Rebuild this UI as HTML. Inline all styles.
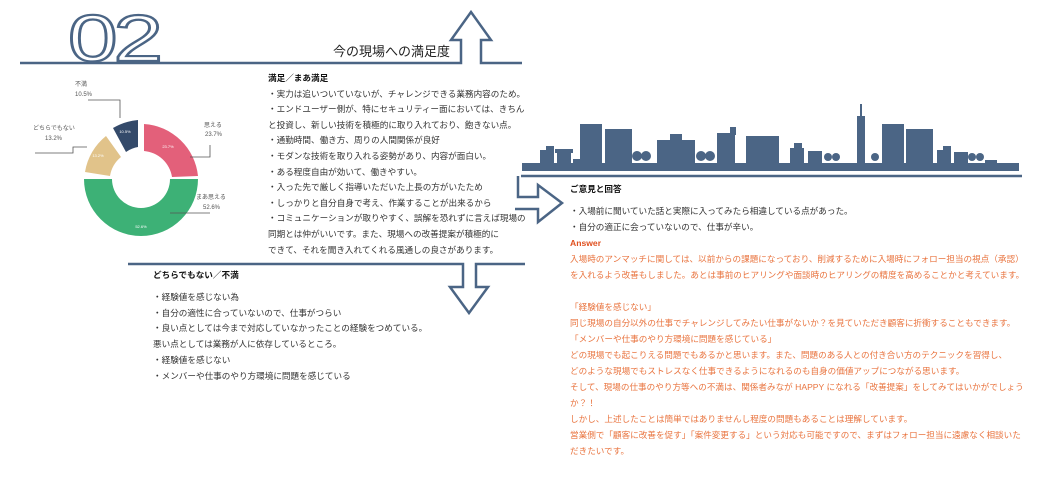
<!DOCTYPE html>
<html><head><meta charset="utf-8"><style>
body{margin:0;width:1040px;height:482px;background:#fff;position:relative;overflow:hidden;font-family:"Liberation Sans","Noto Sans CJK JP",sans-serif;}
.t{position:absolute;font-size:8.6px;color:#333;white-space:nowrap;line-height:15.6px;}
.o{color:#e9743f;}
b{font-weight:bold;color:#111}
</style></head><body>
<svg width="1040" height="482" style="position:absolute;left:0;top:0" xmlns="http://www.w3.org/2000/svg">
<g fill="none" stroke="#4b6585" stroke-width="2.5">
<path d="M20 63 H461 V40 H451 L471 12 L491 40 H481 V63 H522"/>
<path d="M521 176 H1022"/>
<path d="M518 176 V197 H538 V185 L562 203 L538 222 V209 H515"/>
<path d="M128 264 H463 V287 H450 L469 313 L488 287 H476 V264 H525"/>
</g>
<text x="0" y="0" transform="translate(68,61) scale(1.35,1)" font-family="Liberation Sans" font-size="66" fill="#fff" stroke="#4b6585" stroke-width="2.2" letter-spacing="-3">02</text>
<!-- donut -->
<g transform="translate(141,182)">
<path d="M3,-58 A58,58 0 0 1 57,-6 L31,-5 A31,31 0 0 0 3,-31Z" fill="#e3607a"/>
<path d="M57,-3 A57,57 0 0 1 -57,-3 L-29,-3 A29,29 0 0 0 29,-3Z" fill="#3db176"/>
<path d="M-56,-10 A58,58 0 0 1 -35,-46 L-20,-25 A31,31 0 0 0 -31,-6Z" fill="#e1c38a"/>
<path d="M-28,-54 A58,58 0 0 1 -3,-62 L-3,-35 A31,31 0 0 0 -15,-30Z" fill="#344a6a"/>
</g>
<g fill="#fff" font-size="4" font-family="Liberation Sans" text-anchor="middle">
<text x="168" y="148">23.7%</text><text x="141" y="228">52.6%</text><text x="98" y="157">13.2%</text><text x="125" y="133">10.5%</text>
</g>
<g fill="none" stroke="#555" stroke-width="0.8">
<path d="M88 100 H120 V118"/><path d="M35 153 H73 V147 H87"/><path d="M210 145 V157 H190"/><path d="M210 213 H170"/>
</g>
<g font-size="6" fill="#555" font-family="Liberation Sans,Noto Sans CJK JP,sans-serif">
<text x="75" y="86">不満</text><text x="75" y="96">10.5%</text>
<text x="33" y="130">どちらでもない</text><text x="45" y="140">13.2%</text>
<text x="204" y="127">思える</text><text x="205" y="136">23.7%</text>
<text x="196" y="199">まあ思える</text><text x="203" y="209">52.6%</text>
</g>
<!-- skyline -->
<g fill="#4b6585">
<rect x="522" y="163" width="497" height="8"/>
<rect x="540" y="150" width="14" height="14"/><rect x="546" y="146" width="8" height="6"/>
<rect x="557" y="152" width="14" height="12"/><rect x="555" y="149" width="18" height="4"/>
<rect x="573" y="159" width="10" height="5"/>
<rect x="580" y="124" width="22" height="40"/>
<rect x="605" y="129" width="27" height="35"/>
<circle cx="637" cy="156" r="5"/><circle cx="646" cy="156" r="5"/>
<rect x="657" y="140" width="38" height="24"/><rect x="670" y="134" width="12" height="8"/>
<circle cx="701" cy="156" r="5"/><circle cx="710" cy="156" r="5"/>
<rect x="717" y="133" width="18" height="31"/><rect x="730" y="127" width="6" height="8"/>
<rect x="746" y="136" width="33" height="28"/>
<rect x="790" y="148" width="14" height="16"/><rect x="794" y="143" width="8" height="7"/>
<rect x="808" y="151" width="14" height="13"/>
<circle cx="828" cy="157" r="4"/><circle cx="836" cy="157" r="4"/>
<rect x="857" y="116" width="8" height="48"/><rect x="860" y="104" width="2" height="14"/>
<circle cx="875" cy="157" r="4"/>
<rect x="882" y="124" width="22" height="40"/>
<rect x="906" y="129" width="27" height="35"/>
<rect x="937" y="150" width="14" height="14"/><rect x="943" y="146" width="8" height="6"/>
<rect x="954" y="152" width="14" height="12"/>
<circle cx="972" cy="157" r="4"/><circle cx="980" cy="157" r="4"/><rect x="985" y="160" width="12" height="4"/>
</g>
</svg>
<div style="position:absolute;left:333px;top:41px;font-size:13px;color:#222;">今の現場への満足度</div>
<div class="t" style="left:268px;top:71px;">
<b>満足／まあ満足</b><br>
・実力は追いついていないが、チャレンジできる業務内容のため。<br>
・エンドユーザー側が、特にセキュリティー面においては、きちん<br>
と投資し、新しい技術を積極的に取り入れており、飽きない点。<br>
・通勤時間、働き方、周りの人間関係が良好<br>
・モダンな技術を取り入れる姿勢があり、内容が面白い。<br>
・ある程度自由が効いて、働きやすい。<br>
・入った先で厳しく指導いただいた上長の方がいたため<br>
・しっかりと自分自身で考え、作業することが出来るから<br>
・コミュニケーションが取りやすく、誤解を恐れずに言えば現場の<br>
同期とは仲がいいです。また、現場への改善提案が積極的に<br>
できて、それを聞き入れてくれる風通しの良さがあります。</div>
<div class="t" style="left:153px;top:268px;line-height:15.8px;">
<b>どちらでもない／不満</b><br><span style="display:block;height:6px"></span>
・経験値を感じない為<br>
・自分の適性に合っていないので、仕事がつらい<br>
・良い点としては今まで対応していなかったことの経験をつめている。<br>
悪い点としては業務が人に依存しているところ。<br>
・経験値を感じない<br>
・メンバーや仕事のやり方環境に問題を感じている</div>
<div class="t" style="left:570px;top:181px;line-height:16px;">
<b>ご意見と回答</b><br><span style="display:block;height:6px"></span>
・入場前に聞いていた話と実際に入ってみたら相違している点があった。<br>
・自分の適正に会っていないので、仕事が辛い。<br>
<b style="color:#e0501f">Answer</b><br>
<span class="o">入場時のアンマッチに関しては、以前からの課題になっており、削減するために入場時にフォロー担当の視点（承認）<br>
を入れるよう改善もしました。あとは事前のヒアリングや面談時のヒアリングの精度を高めることかと考えています。<br><br>
「経験値を感じない」<br>
同じ現場の自分以外の仕事でチャレンジしてみたい仕事がないか？を見ていただき顧客に折衝することもできます。<br>
「メンバーや仕事のやり方環境に問題を感じている」<br>
どの現場でも起こりえる問題でもあるかと思います。また、問題のある人との付き合い方のテクニックを習得し、<br>
どのような現場でもストレスなく仕事できるようになれるのも自身の価値アップにつながる思います。<br>
そして、現場の仕事のやり方等への不満は、関係者みなが HAPPY になれる「改善提案」をしてみてはいかがでしょう<br>
か？！<br>
しかし、上述したことは簡単ではありませんし程度の問題もあることは理解しています。<br>
営業側で「顧客に改善を促す」「案件変更する」という対応も可能ですので、まずはフォロー担当に遠慮なく相談いた<br>
だきたいです。</span></div>
</body></html>
